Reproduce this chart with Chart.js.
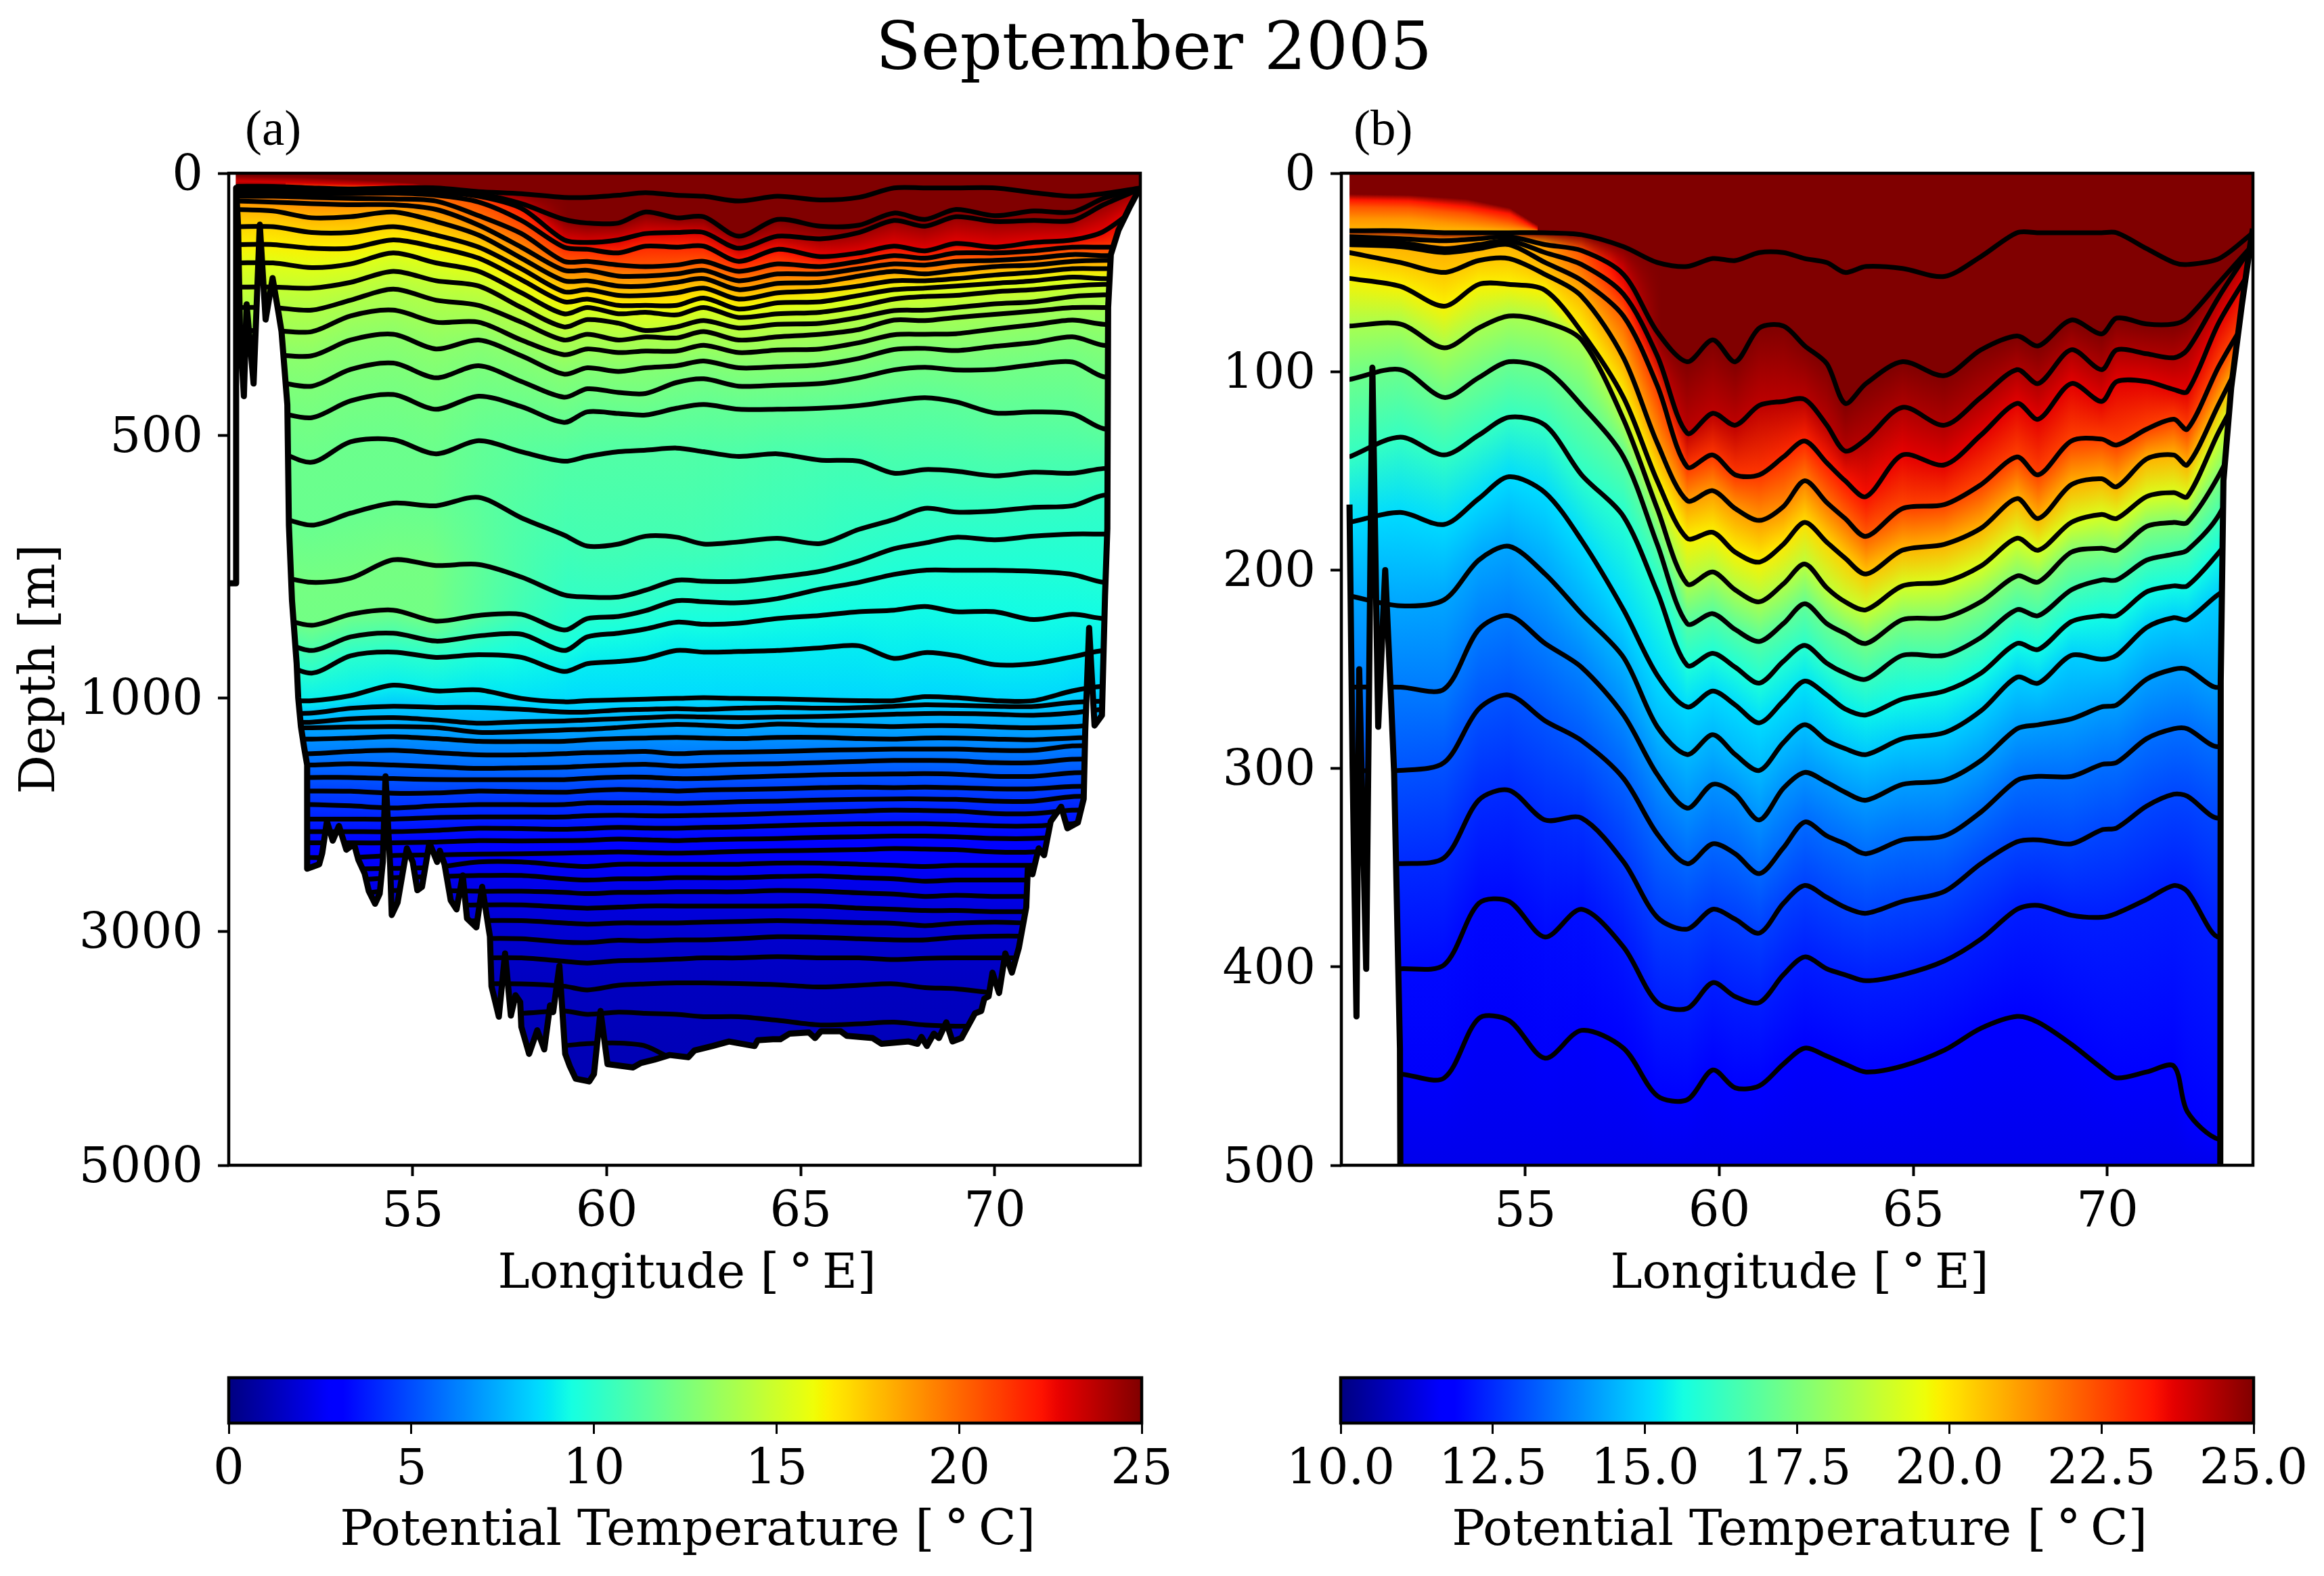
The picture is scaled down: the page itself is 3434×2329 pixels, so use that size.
<!DOCTYPE html>
<html>
<head>
<meta charset="utf-8">
<script src="https://cdn.jsdelivr.net/npm/chart.js@4/dist/chart.umd.js"></script>
<style>
  html, body { margin: 0; padding: 0; background: #fff; }
  body { position: relative; width: 3434px; height: 2329px; overflow: hidden; }
  canvas { position: absolute; }
  .txt { position: absolute; color: #000; white-space: nowrap; }
  #suptitle { font: 97.5px "DejaVu Serif"; left: 0; width: 3410px; text-align: center; top: 11px; }
  .tag { font: 75px "Liberation Serif"; top: 146px; }
</style>
</head>
<body>
<div id="suptitle" class="txt">September 2005</div>
<div class="txt tag" style="left:362px">(a)</div>
<div class="txt tag" style="left:2000px">(b)</div>
<canvas id="secA" width="1760" height="1800" style="left:0;top:160px"></canvas>
<canvas id="secB" width="1734" height="1800" style="left:1700px;top:160px"></canvas>
<canvas id="barA" width="1600" height="329" style="left:237px;top:2000px"></canvas>
<canvas id="barB" width="1554" height="329" style="left:1880px;top:2000px"></canvas>
<script>
// ---- panel (a): contour depths [m] along the section
const LON_A = [50.44,51.4,52.4,53.4,54.5,55.6,56.7,57.8,58.9,59.5,60.3,61.0,61.8,62.5,63.4,64.4,65.5,66.5,67.4,68.2,69.0,70.0,71.0,72.0,72.8,73.75];
const DEPTHS_A = [
 [25,25,28,30,28,28,35,39,46,46,42,37,42,44,53,44,51,46,28,28,28,28,37,44,39,28],
 [31,32,35,34,31,32,39,58,88,95,95,74,85,83,120,88,101,99,76,88,69,81,72,74,48,29],
 [34,35,37,37,34,36,44,67,127,132,127,115,113,113,143,120,125,113,90,101,83,92,90,90,60,30],
 [37,37,39,39,38,42,55,90,141,145,152,139,141,139,168,145,159,152,139,148,134,141,132,127,111,60],
 [44,44,46,48,49,53,81,115,168,168,175,178,175,168,187,173,178,168,157,162,152,152,148,141,141,141],
 [53,55,58,60,60,69,99,141,185,185,196,196,192,185,205,192,192,182,173,175,168,166,162,155,157,157],
 [69,72,85,83,74,92,118,162,205,205,215,215,208,201,222,210,208,196,187,192,185,178,175,168,166,166],
 [102,102,113,113,102,118,141,182,226,222,233,233,228,219,240,228,224,215,205,205,201,194,189,182,182,182],
 [136,136,143,143,127,141,162,203,245,240,252,252,252,238,259,247,245,233,222,219,215,210,205,198,201,201],
 [171,171,180,173,152,171,187,228,268,256,268,265,270,256,275,268,265,254,240,235,233,226,222,215,212,212],
 [217,217,219,208,187,205,215,256,293,279,286,300,293,281,295,288,286,275,262,261,256,249,245,235,232,232],
 [256,256,261,242,221,242,252,284,318,307,318,312,314,302,318,312,307,298,280,281,275,269,263,256,256,256],
 [300,300,302,272,261,284,284,318,346,335,342,339,339,328,342,337,335,323,308,307,306,297,289,280,288,288],
 [346,346,348,318,307,335,318,348,383,371,378,371,367,358,371,369,365,353,336,334,338,330,323,312,328,328],
 [397,397,406,374,362,390,367,397,427,411,418,420,399,392,406,404,401,390,375,370,375,374,365,360,388,388],
 [455,455,466,434,422,450,425,445,475,455,458,461,448,441,450,450,448,443,434,428,436,457,455,459,487,487],
 [528,528,551,512,508,535,510,531,549,540,531,528,524,531,540,535,547,549,572,565,568,577,570,572,563,563],
 [653,653,671,648,629,634,618,657,690,711,707,692,694,707,703,696,706,679,660,639,646,644,637,634,614,614],
 [767,767,780,772,737,748,746,770,804,808,808,795,776,778,778,770,759,739,716,705,694,699,692,688,688,688],
 [845,845,862,841,833,854,843,841,871,849,845,834,815,817,819,811,793,780,765,757,757,757,759,765,780,780],
 [888,888,910,884,877,892,882,879,910,884,877,869,856,860,858,849,843,836,833,826,836,836,851,841,849,849],
 [918,927,953,920,913,923,918,923,950,935,931,925,910,913,912,910,905,901,925,914,920,937,935,922,910,910],
 [1025,1025,1025,996,976,987,985,1006,1035,1025,1019,1012,1006,1000,1006,1010,1019,1025,1025,998,1000,1025,1025,987,978,978],
 [1131,1131,1131,1090,1073,1083,1083,1100,1122,1122,1105,1100,1093,1100,1090,1083,1090,1085,1073,1060,1065,1073,1075,1040,1030,1030],
 [1209,1209,1209,1180,1170,1190,1218,1205,1199,1190,1180,1170,1160,1165,1170,1165,1160,1150,1141,1135,1135,1141,1150,1130,1100,1100],
 [1257,1257,1257,1250,1247,1255,1296,1290,1276,1270,1255,1240,1228,1235,1247,1225,1235,1240,1247,1240,1240,1250,1257,1247,1230,1230],
 [1354,1354,1354,1345,1334,1350,1373,1375,1373,1360,1350,1345,1340,1345,1350,1340,1340,1350,1354,1345,1345,1354,1360,1345,1340,1340],
 [1479,1479,1479,1460,1450,1470,1489,1489,1479,1470,1465,1460,1479,1470,1465,1460,1450,1445,1440,1440,1440,1450,1450,1412,1412,1412],
 [1576,1576,1576,1565,1576,1590,1605,1600,1595,1585,1575,1570,1585,1580,1570,1565,1555,1545,1537,1537,1540,1556,1556,1527,1527,1527],
 [1682,1682,1682,1682,1692,1700,1701,1701,1701,1690,1680,1680,1692,1690,1680,1670,1660,1655,1653,1650,1655,1672,1672,1643,1643,1643],
 [1798,1798,1798,1800,1817,1815,1798,1805,1808,1795,1785,1790,1798,1790,1785,1780,1770,1765,1769,1765,1770,1779,1779,1759,1759,1759],
 [1914,1914,1914,1925,1943,1925,1914,1915,1914,1900,1900,1900,1904,1900,1890,1885,1875,1870,1866,1866,1870,1885,1885,1846,1846,1846],
 [2039,2039,2039,2039,2039,2025,2020,2020,2020,2010,2005,2010,2010,2005,2000,1990,1980,1970,1962,1965,1970,1991,1991,1962,1962,1962],
 [2146,2146,2146,2146,2146,2135,2117,2120,2126,2120,2110,2115,2117,2110,2105,2095,2085,2080,2078,2078,2085,2097,2097,2078,2060,2060],
 [2242,2242,2242,2242,2242,2235,2223,2225,2223,2220,2210,2215,2223,2215,2210,2205,2195,2190,2184,2184,2190,2204,2204,2184,2184,2184],
 [2368,2368,2368,2368,2350,2345,2339,2335,2329,2325,2320,2325,2329,2325,2315,2310,2305,2300,2291,2295,2300,2320,2320,2291,2291,2291],
 [2465,2465,2465,2465,2460,2450,2405,2405,2434,2444,2425,2425,2425,2425,2425,2415,2415,2425,2434,2444,2434,2434,2434,2434,2434,2434],
 [2560,2560,2560,2560,2540,2530,2521,2521,2550,2560,2550,2550,2540,2540,2540,2530,2525,2540,2550,2570,2560,2560,2560,2560,2560,2560],
 [2680,2680,2680,2680,2650,2650,2656,2656,2666,2676,2666,2666,2660,2660,2660,2650,2656,2670,2680,2700,2690,2700,2700,2700,2700,2700],
 [2800,2800,2800,2800,2780,2780,2772,2772,2792,2801,2792,2782,2782,2782,2782,2782,2782,2800,2810,2821,2821,2830,2830,2830,2830,2830],
 [2920,2920,2920,2920,2920,2920,2907,2907,2927,2937,2927,2927,2927,2920,2915,2907,2915,2925,2930,2950,2930,2920,2930,2930,2930,2930],
 [3090,3090,3090,3090,3090,3090,3062,3062,3091,3095,3075,3081,3072,3072,3062,3045,3050,3062,3072,3072,3050,3040,3040,3040,3040,3040],
 [3230,3230,3230,3230,3230,3230,3226,3226,3255,3270,3250,3246,3236,3226,3226,3216,3226,3226,3240,3230,3226,3226,3226,3226,3226,3226],
 [3448,3448,3448,3448,3448,3448,3448,3448,3468,3500,3460,3448,3440,3440,3445,3455,3475,3460,3448,3480,3490,3526,3526,3526,3526,3526],
 [3700,3700,3700,3700,3700,3700,3700,3700,3680,3709,3690,3700,3709,3729,3729,3760,3800,3790,3776,3800,3810,3810,3810,3810,3810,3810],
 [3980,3980,3980,3980,3980,3980,3980,3980,3975,3960,3955,3980,4100,4100,4100,4100,4100,4100,4100,4100,4100,4100,4100,4100,4100,4100]
];
// temperature on each contour in the west, middle and east of the basin
const TEMP_LON_A = [55.5,59,62,66];
const LEVELS_A_DEEP = [8.0,7.6,7.2,6.7,6.2,5.7,5.2,4.7,4.3,3.9,3.5,3.2,2.9,2.6,2.4,2.2,2.0,1.85,1.7,1.55,1.4,1.3,1.2];
const LEVELS_A_WEST = [26,20.5,20.2,20,19.6,19,18,17.1,16.4,15.6,14.8,14.1,13.6,13,12.6,12.3,12,11.9,12.3,12.2,11,10,9];
const LEVELS_A_MID = [26,25,23,21.7,20.5,19.2,18.2,17.2,16.4,15.5,14.7,14,13.5,12.8,12.3,11.8,11.2,10.8,10.3,9.9,9.4,8.9,8.5];
const LEVELS_A_EAST = [26,25,24.5,22.8,21.3,19.8,18.6,17,15.6,15,14.2,13.7,13.2,12.7,12.2,11.6,10.8,10.3,10,9.7,9.3,8.9,8.4];

// ---- panel (b): upper 500 m
const LON_B = [50.46,51.78,52.91,53.80,54.58,55.51,56.45,57.53,58.4,59.17,59.83,60.41,61.03,61.65,62.2,62.77,63.24,63.78,64.72,65.80,66.74,67.67,68.22,69.07,69.85,70.24,71.01,71.71,72.06,72.88,73.75];
const DEPTHS_B = [
 [29,29,30,30,30,30,31,37,45,47,43,44,40,40,43,45,50,47,48,52,42,30,30,30,30,30,38,45,46,43,30],
 [32,33,34,33,32,36,39,51,80,95,84,95,78,77,87,96,116,106,95,102,89,82,87,74,81,73,76,76,73,55,36],
 [34,35,38,36,34,40,46,61,92,131,121,127,117,115,114,127,140,134,118,127,113,99,106,89,99,89,91,93,89,62,36],
 [36,37,40,38,36,45,54,72,107,148,142,152,152,143,135,146,155,163,142,147,132,116,124,106,115,105,105,109,110,75,47],
 [40,45,50,44,43,51,62,93,136,165,160,169,175,168,155,166,174,183,169,167,157,143,152,135,134,137,129,124,129,97,68],
 [53,57,67,56,56,59,80,113,155,184,181,191,196,187,176,186,194,202,190,187,179,164,174,157,154,158,144,142,147,116,82],
 [77,76,88,78,72,75,84,124,169,207,201,210,216,207,197,209,216,220,208,206,198,184,190,176,172,174,163,161,163,130,99],
 [104,99,113,103,95,99,117,143,187,227,222,230,236,227,217,227,232,237,225,224,216,203,206,191,189,190,178,176,176,152,116],
 [143,133,142,132,123,127,152,173,211,248,242,249,257,246,238,247,252,255,243,243,234,220,223,210,205,205,195,192,190,172,134],
 [176,171,177,164,153,161,185,220,253,269,261,268,277,266,256,263,270,273,265,261,252,237,240,226,223,223,211,208,208,191,169],
 [213,218,215,195,188,202,222,244,279,293,283,293,301,287,278,286,290,293,285,282,271,254,257,243,245,243,229,224,225,212,203],
 [259,259,260,230,223,237,249,273,303,320,308,313,326,310,302,307,312,316,308,306,296,280,278,275,269,268,255,250,250,259,238],
 [301,301,297,270,263,276,286,305,333,348,338,343,353,340,327,334,338,343,336,334,322,306,304,304,298,297,285,280,280,289,273],
 [348,348,345,316,311,326,325,347,375,381,371,376,383,368,359,365,370,373,367,362,348,337,336,338,331,330,319,313,314,325,308],
 [402,401,399,368,367,385,371,390,418,421,408,415,418,404,395,401,404,407,404,397,386,371,369,374,375,373,366,359,362,385,360],
 [454,454,456,426,427,446,432,441,465,467,452,461,460,449,441,445,449,453,450,442,431,425,428,439,451,456,453,450,473,487,482]
];
const TEMP_LON_B = [55.5,58.5,61,65];
const LEVELS_B_WEST = [26,21.2,21,20.8,20.5,19.8,18.3,17.2,16.2,15.1,14.3,13.7,13.1,12.5,12,11.6];
const LEVELS_B_MID = [26,25,24.2,22.8,21.2,19.8,18.4,16.8,15.8,15.1,14.6,14,13.4,12.8,12.3,11.7];
const LEVELS_B_EAST = [26,25,24.4,23.7,22.6,20.8,19.2,17.6,16.5,15.6,14.9,14.2,13.5,12.9,12.3,11.8];

// ---- sea floor, same section for both panels
const BATHY_LON = [50.55,50.65,50.72,50.90,51.06,51.21,51.39,51.54,51.62,51.77,51.81,51.89,52.01,52.05,52.12,52.20,52.28,52.28,52.28,52.44,52.59,52.67,52.79,52.94,53.10,53.29,53.49,53.60,53.76,53.87,54.03,54.15,54.23,54.30,54.42,54.46,54.61,54.85,55.00,55.12,55.24,55.43,55.63,55.70,55.82,55.98,56.13,56.29,56.40,56.64,56.79,56.99,57.03,57.22,57.38,57.53,57.65,57.77,57.80,58.00,58.21,58.39,58.54,58.62,58.78,58.93,59.05,59.20,59.55,59.67,59.84,60.02,60.68,60.88,61.23,61.62,62.10,62.26,62.72,63.15,63.81,63.89,64.28,64.47,64.71,65.21,65.37,65.52,66.03,66.19,66.85,67.08,67.78,68.01,68.11,68.25,68.43,68.56,68.75,68.91,69.14,69.49,69.65,69.73,69.84,69.94,70.11,70.27,70.44,70.62,70.81,70.85,70.97,71.13,71.27,71.44,71.71,71.87,72.14,72.29,72.33,72.43,72.57,72.76,72.84,72.90,72.92,72.99,73.19,73.46,73.69,73.75];
const BATHY_DEPTH = [300,425,250,401,98,279,200,265,302,441,671,815,935,1000,1247,1421,1576,2059,2463,2444,2425,2328,2059,2223,2097,2300,2252,2387,2502,2656,2763,2676,2405,1672,2445,2859,2753,2289,2405,2647,2618,2241,2405,2309,2425,2734,2811,2521,2888,2965,2618,3043,3468,3729,3188,3719,3545,3603,3816,4047,3845,4009,3632,3690,3294,4047,4154,4260,4283,4221,3680,4134,4163,4125,4096,4057,4076,4018,3980,3941,3980,3931,3922,3922,3874,3864,3912,3854,3854,3893,3912,3961,3941,3961,3902,3980,3874,3912,3777,3941,3912,3700,3680,3574,3555,3352,3526,3188,3352,3139,2792,2463,2511,2289,2347,2059,1933,2117,2068,1866,1286,867,1238,1151,806,677,256,155,108,67,35,28];
const WALL_A_LON = [50.26,50.44,50.45,50.50];
const WALL_A_DEPTH = [782,782,28,100];
const WALL_B_LON = [50.47];
const WALL_B_DEPTH = [167];

// warm surface layer above the merged contours in the west, colour only
const CAP_A_LON = [50.44,52,53.5,55,55.6];
const CAP_A_T = [25,23.2,21];
const CAP_A_DEPTHS = [[5,7,12,19,26],[15,18,21,23,26.5],[26,26,26,26,27]];
const CAP_B_LON = [50.46,52,53.5,54.6,55.3];
const CAP_B_T = [25,23.3,22.3,21.3,20.8];
const CAP_B_DEPTHS = [[10.5,11,13,17.5,26],[13.5,14,17,20.5,28],[17,17.5,20.5,24.5,28.5],[23,23,26,28,29],[28.5,28.5,28.5,29,29.5]];

const X_TICKS = [55,60,65,70];
const Y_TICKS_A = [0,500,1000,3000,5000];
const Y_TICKS_B = [0,100,200,300,400,500];
const BAR_TICKS_A = [0,5,10,15,20,25];
const BAR_TICKS_B = [10,12.5,15,17.5,20,22.5,25];

const LW_FRAME = 4.5;

Chart.defaults.font.family = 'DejaVu Serif';
Chart.defaults.color = '#000';

// depth axis of panel (a): 0-1000 m takes over half the height
class BrokenDepthScale extends Chart.LinearScale {
  getPixelForValue(v) {
    const f = v <= 1000 ? v / 1000 * 0.5287 : 0.5287 + (v - 1000) / 4000 * 0.4713;
    return this.getPixelForDecimal(f);
  }
}
BrokenDepthScale.id = 'brokenDepth';
BrokenDepthScale.defaults = Chart.LinearScale.defaults;
Chart.register(BrokenDepthScale);

const JET = {
  r: [[0,0],[.35,0],[.66,1],[.89,1],[1,.5]],
  g: [[0,0],[.125,0],[.375,1],[.64,1],[.91,0],[1,0]],
  b: [[0,.5],[.11,1],[.34,1],[.65,0],[1,0]]
};
function channel(pts, v) {
  for (let i = 1; i < pts.length; i++) {
    if (v <= pts[i][0]) {
      const t = (v - pts[i-1][0]) / (pts[i][0] - pts[i-1][0]);
      return pts[i-1][1] + t * (pts[i][1] - pts[i-1][1]);
    }
  }
  return pts[pts.length-1][1];
}
function jet(v) {
  v = Math.min(1, Math.max(0, v));
  return 'rgb(' + [JET.r, JET.g, JET.b].map(c => Math.round(channel(c, v) * 255)).join(',') + ')';
}
function lookup(lons, vals, lon) {
  if (lon <= lons[0]) return vals[0];
  for (let i = 1; i < lons.length; i++) {
    if (lon <= lons[i]) {
      return vals[i-1] + (lon - lons[i-1]) / (lons[i] - lons[i-1]) * (vals[i] - vals[i-1]);
    }
  }
  return vals[vals.length-1];
}
const xy = (lons, deps) => lons.map((x, i) => ({x: x, y: deps[i]}));

const framePlugin = {
  id: 'frame',
  afterDatasetsDraw(chart) {
    const {ctx, chartArea: a} = chart;
    ctx.save();
    ctx.strokeStyle = '#000';
    ctx.lineWidth = LW_FRAME;
    ctx.strokeRect(a.left, a.top, a.width, a.height);
    ctx.restore();
  }
};

function section(id, p) {
  const tempColor = t => jet((t - p.tMin) / (p.tMax - p.tMin));
  const tempAt = (i, lon) => lookup(p.tempLon, [p.west[i], p.mid[i], p.mid[i], p.east[i]], lon);
  const datasets = [{
    data: xy(p.wallLon.concat(BATHY_LON), p.wallDepth.concat(BATHY_DEPTH)),
    borderColor: '#000', borderWidth: 9, pointRadius: 0, tension: 0, fill: false, borderJoinStyle: 'round'
  }];
  p.depths.forEach(d => datasets.push({
    data: xy(p.lon, d), borderColor: '#000', borderWidth: 7, pointRadius: 0, tension: 0.3, fill: false
  }));

  const fieldPlugin = {
    id: 'field',
    beforeDatasetsDraw(chart) {
      const {ctx, chartArea: a, scales: {x, y}} = chart;
      const capEnd = p.capLon[p.capLon.length-1];
      ctx.save();
      for (let px = a.left; px < a.right; px += 2) {
        const lon = x.getValueForPixel(px + 1);
        const g = ctx.createLinearGradient(0, a.top, 0, a.bottom);
        const stop = (d, t) => {
          const f = (y.getPixelForValue(d) - a.top) / a.height;
          if (f > 0 && f < 1) g.addColorStop(f, tempColor(t));
        };
        g.addColorStop(0, tempColor(26));
        if (lon <= capEnd) p.capDepths.forEach((d, i) => stop(lookup(p.capLon, d, lon), p.capT[i]));
        p.depths.forEach((d, i) => stop(lookup(p.lon, d, lon), tempAt(i, lon)));
        g.addColorStop(1, tempColor(p.bottomT));
        ctx.fillStyle = g;
        ctx.fillRect(px, a.top, 2.5, a.height);
      }
      ctx.restore();
    },
    // white land goes over the contours, just before the sea floor line
    beforeDatasetDraw(chart, args) {
      if (args.index !== 0) return;
      const {ctx, chartArea: a, scales: {x, y}} = chart;
      const lons = p.wallLon.concat(BATHY_LON).slice(p.skipFoot);
      const deps = p.wallDepth.concat(BATHY_DEPTH).slice(p.skipFoot);
      ctx.save();
      ctx.beginPath();
      ctx.rect(a.left, a.top, a.width, a.height);
      ctx.clip();
      ctx.beginPath();
      ctx.moveTo(a.left, a.top);
      ctx.lineTo(x.getPixelForValue(lons[0]), a.top);
      lons.forEach((l, i) => ctx.lineTo(x.getPixelForValue(l), y.getPixelForValue(deps[i])));
      ctx.lineTo(a.right, y.getPixelForValue(deps[deps.length-1]));
      ctx.lineTo(a.right, a.bottom);
      ctx.lineTo(a.left, a.bottom);
      ctx.closePath();
      ctx.fillStyle = '#fff';
      ctx.fill();
      ctx.restore();
    }
  };

  new Chart(document.getElementById(id), {
    type: 'line',
    data: {datasets: datasets},
    plugins: [fieldPlugin, framePlugin],
    options: {
      responsive: false, animation: false, devicePixelRatio: 1, events: [],
      layout: {padding: {top: 96, left: 0, right: p.padRight, bottom: 0}},
      plugins: {legend: {display: false}, tooltip: {enabled: false}},
      scales: {
        x: {
          type: 'linear', min: 50.26, max: 73.75,
          afterBuildTicks(s) { s.ticks = X_TICKS.map(v => ({value: v})); },
          afterFit(s) { s.height = 238; },
          grid: {drawOnChartArea: false, tickLength: 16, tickWidth: 4, tickColor: '#000'},
          border: {display: false},
          ticks: {font: {size: 72}, padding: 12, maxRotation: 0, minRotation: 0, autoSkip: false, callback: v => String(v)},
          title: {display: true, text: '\u200aLongitude [\u2009\u00b0\u2009E]', font: {size: 71}, padding: {top: 0, bottom: 33}}
        },
        y: {
          type: p.yType, min: 0, max: p.yMax, reverse: true,
          afterBuildTicks(s) { s.ticks = p.yTicks.map(v => ({value: v})); },
          afterFit(s) { s.width = p.yWidth; },
          grid: {drawOnChartArea: false, tickLength: 16, tickWidth: 4, tickColor: '#000'},
          border: {display: false},
          ticks: {font: {size: 72}, padding: 22, labelOffset: 6, autoSkip: false, callback: v => String(v)},
          title: {display: p.yTitle !== '', text: p.yTitle, font: {size: 72}, padding: {top: 18, bottom: 0}}
        }
      }
    }
  });
}

section('secA', {
  lon: LON_A, depths: DEPTHS_A, tMin: 0, tMax: 25, bottomT: 1, tempLon: TEMP_LON_A,
  west: LEVELS_A_WEST.concat(LEVELS_A_DEEP), mid: LEVELS_A_MID.concat(LEVELS_A_DEEP), east: LEVELS_A_EAST.concat(LEVELS_A_DEEP),
  wallLon: WALL_A_LON, wallDepth: WALL_A_DEPTH, skipFoot: 1,
  capLon: CAP_A_LON, capT: CAP_A_T, capDepths: CAP_A_DEPTHS,
  yType: 'brokenDepth', yMax: 5000, yTicks: Y_TICKS_A, yWidth: 338, yTitle: 'Depth [m]', padRight: 75
});
section('secB', {
  lon: LON_B, depths: DEPTHS_B, tMin: 10, tMax: 25, bottomT: 11.4, tempLon: TEMP_LON_B,
  west: LEVELS_B_WEST, mid: LEVELS_B_MID, east: LEVELS_B_EAST,
  wallLon: WALL_B_LON, wallDepth: WALL_B_DEPTH, skipFoot: 0,
  capLon: CAP_B_LON, capT: CAP_B_T, capDepths: CAP_B_DEPTHS,
  yType: 'linear', yMax: 500, yTicks: Y_TICKS_B, yWidth: 282, yTitle: '', padRight: 105
});

function colorbar(id, tMin, tMax, ticks, fmt, padLeft, padRight) {
  new Chart(document.getElementById(id), {
    type: 'bar',
    data: {
      labels: ['T'],
      datasets: [{
        data: [[tMin, tMax]], barPercentage: 1, categoryPercentage: 1, borderWidth: 0,
        backgroundColor(c) {
          const a = c.chart.chartArea;
          if (!a || !Number.isFinite(a.left) || !Number.isFinite(a.right)) return '#000';
          const g = c.chart.ctx.createLinearGradient(a.left, 0, a.right, 0);
          for (let i = 0; i <= 128; i++) g.addColorStop(i / 128, jet(i / 128));
          return g;
        }
      }]
    },
    plugins: [framePlugin],
    options: {
      indexAxis: 'y', responsive: false, animation: false, devicePixelRatio: 1, events: [],
      layout: {padding: {top: 36, left: padLeft, right: padRight, bottom: 0}},
      plugins: {legend: {display: false}, tooltip: {enabled: false}},
      scales: {
        y: {display: false},
        x: {
          type: 'linear', min: tMin, max: tMax,
          afterBuildTicks(s) { s.ticks = ticks.map(v => ({value: v})); },
          afterFit(s) { s.height = 226; },
          grid: {drawOnChartArea: false, tickLength: 16, tickWidth: 3, tickColor: '#000'},
          border: {display: false},
          ticks: {font: {size: 72}, padding: 12, maxRotation: 0, minRotation: 0, autoSkip: false, callback: fmt},
          title: {display: true, text: '\u200aPotential Temperature [\u2009\u00b0\u2009C]', font: {size: 72.7}, padding: {top: 0, bottom: 21}}
        }
      }
    }
  });
}
colorbar('barA', 0, 25, BAR_TICKS_A, v => String(v), 101, 150);
colorbar('barB', 10, 25, BAR_TICKS_B, v => v.toFixed(1), 101, 104);
</script>
</body>
</html>
